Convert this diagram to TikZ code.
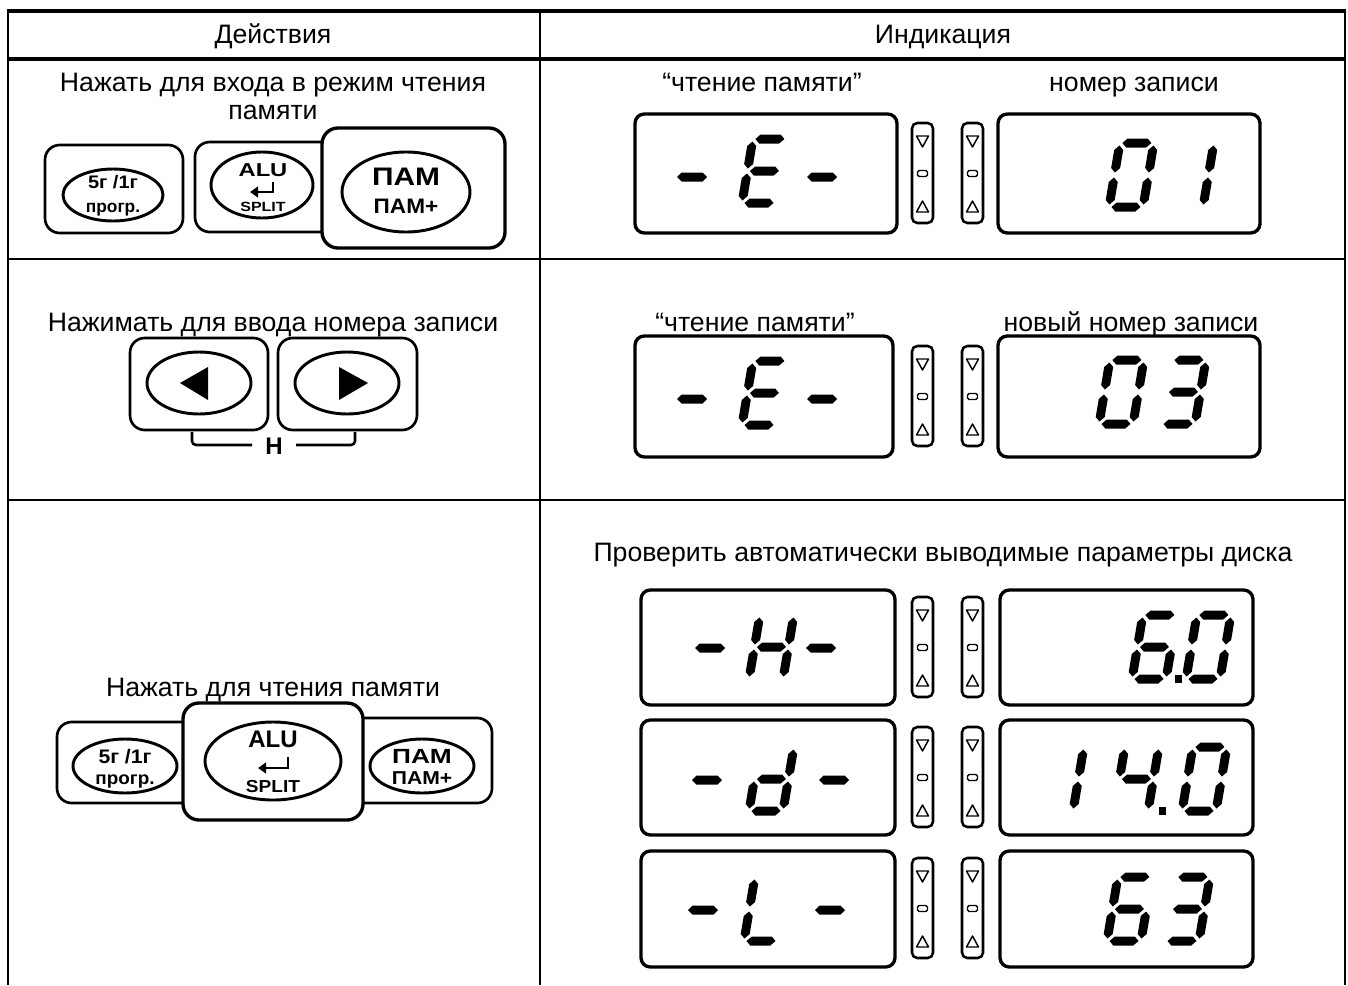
\documentclass[tikz,border=0pt]{standalone}
\usepackage{fontspec}
\setmainfont{Liberation Sans}
\usetikzlibrary{arrows.meta}
\newcommand{\segA}{\fill (2.5,64)--(7,68.5)--(27,68.5)--(31.5,64)--(27,59.5)--(7,59.5)--cycle;}
\newcommand{\segG}{\fill (2.5,32)--(7,36.5)--(27,36.5)--(31.5,32)--(27,27.5)--(7,27.5)--cycle;}
\newcommand{\segD}{\fill (2.5,0)--(7,4.5)--(27,4.5)--(31.5,0)--(27,-4.5)--(7,-4.5)--cycle;}
\newcommand{\segB}{\fill (34,34.5)--(38.5,39)--(38.5,57)--(34,61.5)--(29.5,57)--(29.5,39)--cycle;}
\newcommand{\segC}{\fill (34,2.5)--(38.5,7)--(38.5,25)--(34,29.5)--(29.5,25)--(29.5,7)--cycle;}
\newcommand{\segE}{\fill (0,2.5)--(4.5,7)--(4.5,25)--(0,29.5)--(-4.5,25)--(-4.5,7)--cycle;}
\newcommand{\segF}{\fill (0,34.5)--(4.5,39)--(4.5,57)--(0,61.5)--(-4.5,57)--(-4.5,39)--cycle;}
\newcommand{\sdigit}[3]{\begin{scope}[shift={(#1,#2)},cm={1,0,-0.17,-1,(0,0)}]\foreach \s in {#3}{\csname seg\s\endcsname}\end{scope}}
\newcommand{\sdash}[2]{\fill[shift={(#1,#2)}] (-15,0)--(-10.5,-4.5)--(10.5,-4.5)--(15,0)--(10.5,4.5)--(-10.5,4.5)--cycle;}
\newcommand{\sdot}[2]{\fill (#1-3.5,#2-4) rectangle (#1+3.5,#2+4);}
\newcommand{\indic}[2]{%
  \draw[indbox] (#1,#2) rectangle ++(21,100);
  \draw[indsym] (#1+4.5,#2+13) -- (#1+16.5,#2+13) -- (#1+10.5,#2+24) -- cycle;
  \draw[indsym, rounded corners=1.2pt] (#1+5.5,#2+47.5) rectangle (#1+15.5,#2+53.5);
  \draw[indsym] (#1+4.5,#2+89) -- (#1+16.5,#2+89) -- (#1+10.5,#2+78) -- cycle;}
\newcommand{\bt}[2]{\scalebox{#1}[1]{#2}}
\begin{document}
\begin{tikzpicture}[x=0.75pt,y=-0.75pt,
  txt/.style={font=\fontsize{20}{23}\selectfont, inner sep=0pt, anchor=base},
  disp/.style={draw, line width=2.5pt, rounded corners=7pt, fill=white},
  indbox/.style={draw, line width=1.9pt, rounded corners=4pt},
  indsym/.style={draw, line width=1.1pt, line join=round},
  btn/.style={draw, line width=2pt, rounded corners=11pt, fill=white},
  btnfront/.style={draw, line width=2.5pt, rounded corners=12pt, fill=white},
  oval/.style={draw, line width=2.2pt},
  bf/.style={font=\fontsize{#1}{#1}\selectfont\bfseries, inner sep=0pt, anchor=base},
  enter/.style={line width=2.2pt, -{Triangle[length=6pt,width=8pt]}},
  brk/.style={line width=1.9pt, rounded corners=3pt},
  thin/.style={line width=1.1pt},
  thick/.style={line width=2.3pt}]
\useasboundingbox (0,0) rectangle (1348,985);
% table
\draw[thin] (8,11) -- (8,985);
\draw[thin] (1345,11) -- (1345,985);
\draw[thin] (540,11) -- (540,985);
\draw[thick] (7,11) -- (1346,11);
\draw[thick] (7,59) -- (1346,59);
\draw[thin] (8,259) -- (1345,259);
\draw[thin] (8,500) -- (1345,500);
\node[txt] (h1) at (273,43) {Действия};
\node[txt] (h2) at (943,43) {Индикация};
% ---------- row 1
\node[txt] (t1a) at (273,91) {Нажать для входа в режим чтения};
\node[txt] (t1b) at (273,119) {памяти};
\draw[btn] (45,145) rectangle (183,233);
\draw[oval] (113,195) ellipse [x radius=50, y radius=26];
\node[bf=13.6] (b1a) at (113,188) {\bt{1.1}{5г /1г}};
\node[bf=13] (b1b) at (113,212) {прогр.};
\draw[btn] (195,142) rectangle (345,232);
\draw[oval] (262,185) ellipse [x radius=51, y radius=33];
\node[bf=14] (b2a) at (263,176) {\bt{1.27}{ALU}};
\coordinate (e1a) at (273,182); \coordinate (e1b) at (273,192); \coordinate (e1c) at (250,192);
\draw[enter] (e1a) -- (e1b) -- (e1c);
\node[bf=10] (b2b) at (263,211) {\bt{1.2}{SPLIT}};
\draw[btnfront] (322,128) rectangle (505,248);
\draw[oval] (406,192) ellipse [x radius=64, y radius=40];
\node[bf=19] (b3a) at (406,185) {\bt{1.18}{ПАМ}};
\node[bf=15.7] (b3b) at (406,213) {\bt{1.08}{ПАМ+}};
\node[txt] (l1a) at (762,91) {“чтение памяти”};
\node[txt] (l1b) at (1134,91) {номер записи};
\draw[disp] (635,114) rectangle (897,233);
\draw[disp] (998,114) rectangle (1260,233);
\indic{912}{123}\indic{962}{123}
\sdash{692}{177}\sdash{822}{177}
\sdigit{742}{203}{A,D,E,F,G}
\sdigit{1109}{207}{A,B,C,D,E,F}
\sdigit{1169}{207}{B,C}
% ---------- row 2
\node[txt] (t2) at (273,331) {Нажимать для ввода номера записи};
\draw[btn] (130,338) rectangle (268,430);
\draw[oval] (199,383) ellipse [x radius=52, y radius=31];
\fill (180,383) -- (208,367) -- (208,400) -- cycle;
\draw[btn] (278,338) rectangle (417,430);
\draw[oval] (347,383) ellipse [x radius=52, y radius=31];
\fill (368,383) -- (339,367) -- (339,400) -- cycle;
\node[bf=18, anchor=center] (hk) at (274,446) {H};
\coordinate (k1) at (192,432); \coordinate (k2) at (192,445); \coordinate (k5) at (252,445);
\coordinate (k3) at (355,432); \coordinate (k4) at (355,445); \coordinate (k6) at (296,445);
\draw[brk] (k1) -- (k2) -- (k5);
\draw[brk] (k6) -- (k4) -- (k3);
\node[txt] (l2a) at (755,331) {“чтение памяти”};
\node[txt] (l2b) at (1131,331) {новый номер записи};
\draw[disp] (635,336) rectangle (893,457);
\draw[disp] (998,336) rectangle (1260,457);
\indic{912}{346}\indic{962}{346}
\sdash{692}{399}\sdash{822}{399}
\sdigit{742}{425}{A,D,E,F,G}
\sdigit{1099}{424}{A,B,C,D,E,F}
\sdigit{1161}{424}{A,B,C,D,G}
% ---------- row 3
\node[txt] (t3) at (273,696) {Нажать для чтения памяти};
\draw[btn] (57,722) rectangle (200,803);
\draw[oval] (125,766) ellipse [x radius=52, y radius=27];
\node[bf=14.7] (b4a) at (125,763) {\bt{1.08}{5г /1г}};
\node[bf=13.5] (b4b) at (125,784) {\bt{1.05}{прогр.}};
\draw[btn] (345,718) rectangle (492,803);
\draw[oval] (422,766) ellipse [x radius=52, y radius=27];
\node[bf=15.4] (b6a) at (422,763) {\bt{1.28}{ПАМ}};
\node[bf=14] (b6b) at (422,784) {\bt{1.13}{ПАМ+}};
\draw[btnfront] (183,703) rectangle (363,820);
\draw[oval] (273,761) ellipse [x radius=68, y radius=39];
\node[bf=18] (b5a) at (273,747) {ALU};
\coordinate (e2a) at (288,757); \coordinate (e2b) at (288,768); \coordinate (e2c) at (258,768);
\draw[enter] (e2a) -- (e2b) -- (e2c);
\node[bf=13] (b5b) at (273,792) {\bt{1.1}{SPLIT}};
\node[txt] (l3) at (943,561) {Проверить автоматически выводимые параметры диска};
% display A
\draw[disp] (641,590) rectangle (895,705);
\draw[disp] (1000,590) rectangle (1253,705);
\indic{912}{597}\indic{962}{597}
\sdash{710}{648}\sdash{821}{648}
\sdigit{749}{679}{B,C,E,F,G}
\sdigit{1132}{679}{A,C,D,E,F,G}
\sdot{1178}{679}
\sdigit{1186}{679}{A,B,C,D,E,F}
% display B
\draw[disp] (641,720) rectangle (895,835);
\draw[disp] (1000,720) rectangle (1253,835);
\indic{912}{727}\indic{962}{727}
\sdash{707}{780}\sdash{834}{780}
\sdigit{749}{811}{B,C,D,E,G}
\sdigit{1039}{811}{B,C}
\sdigit{1114}{811}{B,C,F,G}
\sdot{1162}{811}
\sdigit{1182}{811}{A,B,C,D,E,F}
% display C
\draw[disp] (641,851) rectangle (895,967);
\draw[disp] (1000,851) rectangle (1253,967);
\indic{912}{858}\indic{962}{858}
\sdash{703}{910}\sdash{830}{910}
\sdigit{744}{941}{D,E,F}
\sdigit{1107}{941}{A,C,D,E,F,G}
\sdigit{1165}{941}{A,B,C,D,G}
\end{tikzpicture}
\end{document}
